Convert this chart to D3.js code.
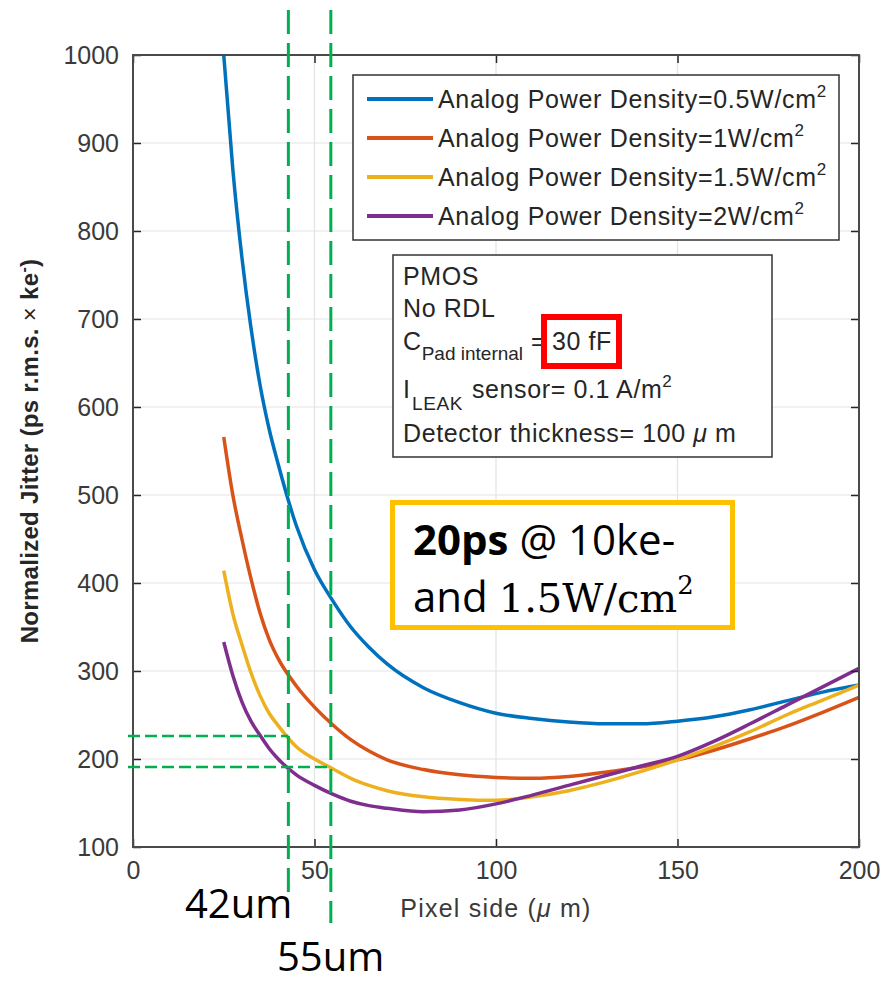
<!DOCTYPE html>
<html>
<head>
<meta charset="utf-8">
<script src="https://cdn.jsdelivr.net/npm/d3@7"></script>
<style>
  body { margin: 0; background: #fff; }
  svg { display: block; }
</style>
</head>
<body>
<svg id="chart"></svg>
<script>
// Pixel side (um) where the curves were sampled
var pixelSide = [25, 27.5, 30, 32.5, 35, 37.5, 40, 45, 50, 55, 60, 65, 70, 80, 90, 100, 110, 120, 130, 140, 150, 160, 170, 180, 190, 200];

// Normalized jitter (ps r.m.s. x ke-) for each analog power density
var jitter05 = [1000, 870, 770, 690, 625, 575, 535, 465, 415, 380, 350, 327, 308, 281, 264, 252, 246, 242, 240, 240, 243, 248, 256, 266, 276, 284];
var jitter10 = [566, 500, 450, 405, 366, 336, 314, 283, 259, 239, 222, 209, 199, 188, 182, 179, 178, 180, 185, 191, 199, 210, 223, 237, 253, 270];
var jitter15 = [414, 365, 330, 298, 272, 252, 238, 214, 200, 189, 178, 170, 164, 157, 154, 153, 157, 164, 174, 186, 199, 214, 231, 250, 267, 284];
var jitter20 = [333, 295, 265, 243, 227, 212, 200, 182, 170, 160, 152, 147, 144, 140, 142, 149, 159, 170, 181, 192, 203, 220, 240, 261, 282, 303];

var densities = ["0.5", "1", "1.5", "2"];
var xTicks = [0, 50, 100, 150, 200];
var yTicks = [100, 200, 300, 400, 500, 600, 700, 800, 900, 1000];

// Green guide lines added on top of the figure
var guideSide = [42.8, 54.5];
var guideSideLabels = ["42um", "55um"];
var guideJitter = [226, 191];

var colours = ["#0072bd", "#d95319", "#edb120", "#7e2f8e"];
var allSeries = [jitter05, jitter10, jitter15, jitter20];

var svgW = 884, svgH = 985;
var plotLeft = 133, plotRight = 859, plotTop = 55, plotBottom = 847;
var mFont = "'Liberation Sans', Arial, sans-serif";
var oFont = "'Open Sans', sans-serif";

var svg = d3.select("#chart")
  .attr("width", svgW)
  .attr("height", svgH);

var x = d3.scaleLinear().domain([0, 200]).range([plotLeft, plotRight]);
var y = d3.scaleLinear().domain([100, 1000]).range([plotBottom, plotTop]);

// Grid
var grid = svg.append("g").attr("stroke", "#e3e3e3").attr("stroke-width", 1.2);
grid.selectAll(".gx").data(xTicks.slice(1, -1)).enter().append("line")
  .attr("x1", d => x(d)).attr("x2", d => x(d))
  .attr("y1", plotTop).attr("y2", plotBottom);
grid.selectAll(".gy").data(yTicks.slice(1, -1)).enter().append("line")
  .attr("x1", plotLeft).attr("x2", plotRight)
  .attr("y1", d => y(d)).attr("y2", d => y(d));

// Curves
svg.append("clipPath").attr("id", "plotClip")
  .append("rect").attr("x", plotLeft).attr("y", plotTop - 2)
  .attr("width", plotRight - plotLeft).attr("height", plotBottom - plotTop + 2);

var line = d3.line()
  .x((d, i) => x(pixelSide[i]))
  .y(d => y(d))
  .curve(d3.curveMonotoneX);

svg.append("g").attr("clip-path", "url(#plotClip)")
  .selectAll("path").data(allSeries).enter().append("path")
  .attr("d", line)
  .attr("fill", "none")
  .attr("stroke", (d, i) => colours[i])
  .attr("stroke-width", 3.5)
  .attr("stroke-linejoin", "round");

// Axes, inward ticks on all four sides
function styleAxis(g) {
  g.select(".domain").remove();
  g.selectAll(".tick line").attr("stroke", "#262626").attr("stroke-width", 1.5);
  g.selectAll(".tick text")
    .attr("fill", "#3a3a3a")
    .style("font-family", mFont)
    .style("font-size", "25px");
}

svg.append("g").attr("transform", "translate(" + plotLeft + ",0)")
  .call(d3.axisLeft(y).tickValues(yTicks).tickFormat(d3.format("d")).tickSizeInner(-8).tickSizeOuter(0).tickPadding(14))
  .call(styleAxis);
svg.append("g").attr("transform", "translate(0," + plotBottom + ")")
  .call(d3.axisBottom(x).tickValues(xTicks).tickSizeInner(-8).tickSizeOuter(0).tickPadding(14))
  .call(styleAxis);
svg.append("g").attr("transform", "translate(" + plotRight + ",0)")
  .call(d3.axisRight(y).tickValues(yTicks).tickSizeInner(-8).tickSizeOuter(0).tickFormat(""))
  .call(styleAxis);
svg.append("g").attr("transform", "translate(0," + plotTop + ")")
  .call(d3.axisTop(x).tickValues(xTicks).tickSizeInner(-8).tickSizeOuter(0).tickFormat(""))
  .call(styleAxis);

svg.append("rect")
  .attr("x", plotLeft).attr("y", plotTop)
  .attr("width", plotRight - plotLeft).attr("height", plotBottom - plotTop)
  .attr("fill", "none").attr("stroke", "#4a4a4a").attr("stroke-width", 2);

// Axis labels
var yLab = svg.append("text")
  .attr("transform", "translate(38," + ((plotTop + plotBottom) / 2) + ") rotate(-90)")
  .attr("text-anchor", "middle")
  .attr("fill", "#262626")
  .style("font-family", mFont)
  .style("font-size", "24px")
  .style("font-weight", "bold")
  .style("letter-spacing", "0.3px");
yLab.append("tspan").text("Normalized Jitter (ps r.m.s. ");
yLab.append("tspan").style("font-weight", "normal").text("×");
yLab.append("tspan").text(" ke");
yLab.append("tspan").attr("dy", -9).style("font-size", "16px").text("-");
yLab.append("tspan").attr("dy", 9).text(")");

var xLab = svg.append("text")
  .attr("x", (plotLeft + plotRight) / 2).attr("y", 917)
  .attr("text-anchor", "middle")
  .attr("fill", "#3a3a3a")
  .style("font-family", mFont)
  .style("font-size", "25px")
  .style("letter-spacing", "1.2px");
xLab.append("tspan").text("Pixel side (");
xLab.append("tspan").style("font-style", "italic").text("μ");
xLab.append("tspan").text(" m)");

// Legend
svg.append("rect")
  .attr("x", 353).attr("y", 75).attr("width", 486).attr("height", 165)
  .attr("fill", "#fff").attr("stroke", "#333").attr("stroke-width", 1.5);

var legend = svg.selectAll(".legend").data(densities).enter().append("g")
  .attr("transform", (d, i) => "translate(0," + (99 + i * 39) + ")");
legend.append("line")
  .attr("x1", 367).attr("x2", 433)
  .attr("stroke", (d, i) => colours[i]).attr("stroke-width", 4);
var legText = legend.append("text")
  .attr("x", 438).attr("y", 9)
  .attr("fill", "#262626")
  .style("font-family", mFont)
  .style("font-size", "25px")
  .style("letter-spacing", "0.7px");
legText.append("tspan").text(d => "Analog Power Density=" + d + "W/cm");
legText.append("tspan").attr("dy", -11).style("font-size", "17px").text("2");

// Simulation conditions box
svg.append("rect")
  .attr("x", 393).attr("y", 255).attr("width", 379).attr("height", 202)
  .attr("fill", "#fff").attr("stroke", "#333").attr("stroke-width", 1.5);

var info = svg.append("g")
  .attr("fill", "#262626")
  .style("font-family", mFont)
  .style("font-size", "25px")
  .style("letter-spacing", "0.6px");
info.append("text").attr("x", 403).attr("y", 285).text("PMOS");
info.append("text").attr("x", 403).attr("y", 317).text("No RDL");
var cPad = info.append("text").attr("x", 403).attr("y", 350);
cPad.append("tspan").text("C");
cPad.append("tspan").attr("dy", 10).style("font-size", "19px").style("letter-spacing", "0px").text("Pad internal");
info.append("text").attr("x", 531).attr("y", 350).text("=");
info.append("text").attr("x", 552).attr("y", 350).text("30 fF");
info.append("text").attr("x", 403).attr("y", 398).text("I");
info.append("text").attr("x", 412).attr("y", 410).style("font-size", "19px").text("LEAK");
var leak = info.append("text").attr("x", 472).attr("y", 398);
leak.append("tspan").text("sensor= 0.1 A/m");
leak.append("tspan").attr("dy", -11).style("font-size", "17px").text("2");
var thick = info.append("text").attr("x", 403).attr("y", 442);
thick.append("tspan").text("Detector thickness= 100 ");
thick.append("tspan").style("font-style", "italic").text("μ");
thick.append("tspan").text(" m");

svg.append("rect")
  .attr("x", 544).attr("y", 317).attr("width", 75).attr("height", 49)
  .attr("fill", "none").attr("stroke", "#ff0000").attr("stroke-width", 6);

// Highlight box
svg.append("rect")
  .attr("x", 392.5).attr("y", 502.5).attr("width", 340).attr("height", 125)
  .attr("fill", "#fff").attr("stroke", "#ffc000").attr("stroke-width", 5);

var note1 = svg.append("text")
  .attr("x", 413).attr("y", 555)
  .attr("fill", "#000")
  .style("font-family", oFont)
  .style("font-size", "42px");
note1.append("tspan").style("font-weight", "bold").text("20ps");
note1.append("tspan").text(" @ 10ke-");

var note2 = svg.append("text")
  .attr("x", 413).attr("y", 612)
  .attr("fill", "#000")
  .style("font-family", oFont)
  .style("font-size", "42px");
note2.append("tspan").text("and ");
note2.append("tspan").style("font-family", "'DejaVu Serif', serif").style("font-size", "40px").text("1.5W/cm");
note2.append("tspan").attr("dy", -18).style("font-family", "'DejaVu Serif', serif")
  .style("font-size", "26px").text("2");

// Green guides
var guides = svg.append("g")
  .attr("stroke", "#00b050")
  .attr("fill", "none");
var guideEnds = [892, 923];
guides.selectAll(".gv").data(guideSide).enter().append("line")
  .attr("x1", d => x(d)).attr("x2", d => x(d))
  .attr("y1", 10).attr("y2", (d, i) => guideEnds[i])
  .attr("stroke-width", 3)
  .attr("stroke-dasharray", "24,9");
guides.selectAll(".gh").data(guideJitter).enter().append("line")
  .attr("x1", plotLeft - 5).attr("x2", (d, i) => x(guideSide[i]))
  .attr("y1", d => y(d)).attr("y2", d => y(d))
  .attr("stroke-width", 2.5)
  .attr("stroke-dasharray", "12,5");

var labelPos = [[185, 918], [277, 971]];
svg.selectAll(".glab").data(guideSideLabels).enter().append("text")
  .attr("x", (d, i) => labelPos[i][0]).attr("y", (d, i) => labelPos[i][1])
  .attr("fill", "#000")
  .style("font-family", oFont)
  .style("font-size", "40px")
  .text(d => d);
</script>
</body>
</html>
